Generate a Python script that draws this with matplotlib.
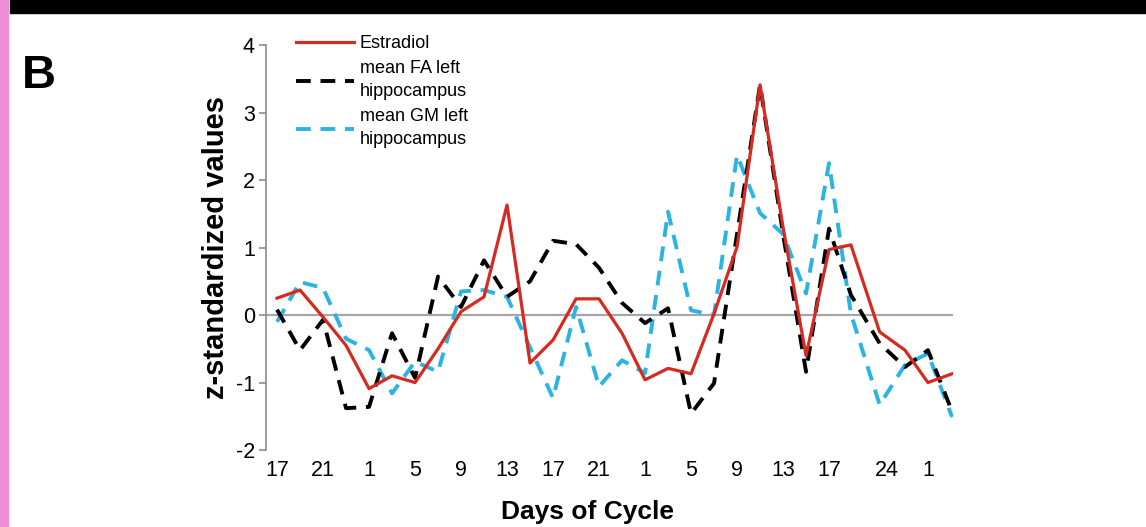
import matplotlib
matplotlib.use("Agg")
import matplotlib.pyplot as plt
from matplotlib.lines import Line2D
from matplotlib.patches import Rectangle

plt.rcParams['font.family'] = ['Liberation Sans', 'DejaVu Sans']

# ---- data -------------------------------------------------------------
session_index = [0, 1, 2, 3, 4, 5, 6, 7, 8, 9, 10, 11, 12, 13, 14, 15, 16, 17,
                 18, 19, 20, 21, 22, 23, 24, 24.95, 26.2, 27.3, 28.3, 29.35]

estradiol = [0.25, 0.37, -0.03, -0.45, -1.09, -0.90, -1.00, -0.50, 0.05, 0.27,
             1.63, -0.71, -0.37, 0.24, 0.24, -0.27, -0.96, -0.79, -0.87, 0.02,
             1.01, 3.41, 1.30, -0.60, 0.97, 1.04, -0.25, -0.52, -1.00, -0.87]

fa_left_hipp = [0.08, -0.52, -0.07, -1.38, -1.36, -0.27, -0.93, 0.57, 0.12, 0.81,
                0.27, 0.50, 1.10, 1.05, 0.70, 0.18, -0.12, 0.10, -1.46, -1.01,
                1.20, 3.41, 1.20, -0.84, 1.28, 0.30, -0.42, -0.77, -0.52, -1.43]

gm_left_hipp = [-0.10, 0.49, 0.40, -0.35, -0.52, -1.16, -0.69, -0.84, 0.35, 0.37,
                0.27, -0.48, -1.23, 0.12, -1.06, -0.67, -0.86, 1.53, 0.07, 0.00,
                2.37, 1.51, 1.20, 0.32, 2.25, 0.02, -1.33, -0.74, -0.57, -1.51]

tick_index = [0, 2, 4, 6, 8, 10, 12, 14, 16, 18, 20, 22, 24, 26.5, 28.3]
tick_labels = ['17', '21', '1', '5', '9', '13', '17', '21', '1', '5', '9', '13',
               '17', '24', '1']

series_names = ['Estradiol', 'mean FA left\nhippocampus', 'mean GM left\nhippocampus']

# ---- figure -----------------------------------------------------------
fig = plt.figure(figsize=(11.46, 5.27), dpi=100)
ax = fig.add_axes([0.2321, 0.146, 0.5995, 0.7686])

red = '#D42A20'
cyan = '#2BB3E3'

ax.axhline(0, color='#A6A6A6', lw=1.6, zorder=1)
ax.plot(session_index, fa_left_hipp, color='black', lw=2.8,
        dashes=(3.8, 2.5), zorder=3)
ax.plot(session_index, gm_left_hipp, color=cyan, lw=2.8,
        dashes=(3.8, 2.5), zorder=2)
ax.plot(session_index, estradiol, color=red, lw=2.3, zorder=4)

ax.set_xlim(-0.48, 29.39)
ax.set_ylim(-2, 4)
ax.set_yticks([-2, -1, 0, 1, 2, 3, 4])
ax.set_yticklabels(['-2', '-1', '0', '1', '2', '3', '4'])
ax.set_xticks(tick_index)
ax.set_xticklabels(tick_labels)

for s in ['top', 'right', 'bottom']:
    ax.spines[s].set_visible(False)
ax.spines['left'].set_color('#8C8C8C')
ax.spines['left'].set_linewidth(1.2)
ax.tick_params(axis='y', direction='out', length=5, width=1.2, color='#8C8C8C',
               labelsize=15.5, pad=3)
ax.tick_params(axis='x', length=0, labelsize=15.5, pad=7)

ax.set_ylabel('z-standardized values', fontsize=21, fontweight='bold', labelpad=4)
fig.text(0.513, 0.028, 'Days of Cycle', fontsize=19, fontweight='bold',
         ha='center', va='center')

handles = [Line2D([], [], color=red, lw=2.3),
           Line2D([], [], color='black', lw=2.8, dashes=(3.8, 2.5)),
           Line2D([], [], color=cyan, lw=2.8, dashes=(3.8, 2.5))]
leg = ax.legend(handles, series_names, loc='upper left',
                bbox_to_anchor=(0.025, 1.055), frameon=False, fontsize=13,
                handlelength=3.2, handletextpad=0.35, labelspacing=0.45,
                borderaxespad=0.3)
for t in leg.get_texts():
    t.set_linespacing(1.45)

fig.text(0.034, 0.855, 'B', fontsize=34, fontweight='bold', ha='center', va='center')

# decorative page elements
fig.patches.append(Rectangle((0.009, 0.975), 0.991, 0.025, transform=fig.transFigure,
                             color='black', zorder=0))
fig.patches.append(Rectangle((0, 0), 0.007, 1, transform=fig.transFigure,
                             color='#EE8CD6', zorder=0))

fig.savefig('out.png', dpi=100)
